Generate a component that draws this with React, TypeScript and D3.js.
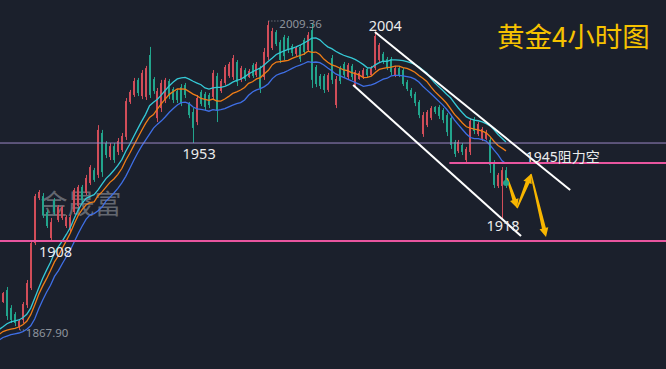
import React from "react";
import * as d3 from "d3";

const W = 666;
const H = 369;

// candles left of the visible window (they only feed the moving averages)
const leadOpen = [1864.5, 1866.2, 1864.8, 1866.9, 1865.3, 1863.9, 1865.8, 1867.1, 1865.0, 1866.4, 1864.6, 1866.8, 1867.6, 1865.2];
const leadHigh = [1867.5, 1868.4, 1867.0, 1869.2, 1867.8, 1866.7, 1868.6, 1869.0, 1867.3, 1868.1, 1867.6, 1869.3, 1868.9, 1868.0];
const leadLow = [1862.8, 1863.9, 1862.1, 1864.0, 1862.6, 1861.8, 1863.5, 1864.2, 1862.9, 1863.4, 1862.5, 1864.1, 1863.8, 1863.6];
const leadClose = [1866.2, 1864.8, 1866.9, 1865.3, 1863.9, 1865.8, 1867.1, 1865.0, 1866.4, 1864.6, 1866.8, 1867.6, 1865.2, 1866.5];

// visible 4h candles
const opens = [
  1880.7, 1886.2, 1878.0, 1875.2, 1869.3, 1872.5, 1879.3, 1887.1, 1907.7, 1928.3,
  1929.2, 1921.9, 1910.0, 1927.4, 1918.3, 1919.2, 1915.5, 1913.7, 1921.9, 1924.7,
  1933.4, 1930.6, 1935.2, 1941.1, 1938.9, 1958.1, 1953.5, 1947.1, 1952.1, 1949.4,
  1950.3, 1956.3, 1972.3, 1975.5, 1982.4, 1975.0, 1974.6, 1993.8, 1982.8, 1964.9,
  1969.5, 1973.2, 1981.9, 1978.2, 1977.3, 1979.1, 1980.1, 1971.4, 1967.7, 1963.1,
  1976.9, 1976.0, 1975.5, 1974.6, 1984.2, 1977.3, 1981.0, 1984.2, 1983.7, 1990.6,
  1982.4, 1986.9, 1983.7, 1989.2, 1984.6, 1987.8, 1983.7, 1992.9, 1997.0, 2004.3,
  1999.7, 2002.0, 2001.6, 1997.9, 1994.3, 1997.5, 2000.7, 1996.1, 2005.2, 1988.3,
  1984.2, 1984.2, 1977.8, 1992.4, 1970.9, 1987.8, 1989.7, 1983.7, 1988.8, 1979.6,
  1982.8, 1983.7, 1987.4, 1984.6, 1987.8, 1991.5, 1994.3, 1991.9, 1991.9, 1984.6,
  1987.8, 1986.9, 1981.4, 1977.8, 1976.0, 1972.3, 1957.6, 1961.7, 1965.0, 1970.0,
  1970.0, 1968.6, 1966.3, 1965.0, 1954.0, 1949.8, 1952.6, 1945.7, 1949.4, 1964.5,
  1957.6, 1955.4, 1955.4, 1954.9, 1944.4, 1933.8, 1933.8, 1941.1,
];
const highs = [
  1885.3, 1887.6, 1879.3, 1876.1, 1872.9, 1880.7, 1890.8, 1909.1, 1930.2, 1932.0,
  1930.6, 1922.8, 1919.2, 1928.3, 1925.1, 1924.7, 1920.5, 1920.5, 1932.9, 1934.3,
  1934.3, 1938.9, 1943.4, 1942.1, 1961.7, 1959.5, 1954.4, 1953.5, 1953.5, 1955.8,
  1958.1, 1974.1, 1977.8, 1983.3, 1983.3, 1986.9, 1988.8, 1997.5, 1983.7, 1978.7,
  1982.4, 1983.3, 1982.8, 1979.1, 1978.2, 1980.5, 1981.0, 1972.3, 1969.5, 1975.5,
  1977.8, 1976.9, 1976.4, 1986.9, 1985.6, 1982.8, 1989.2, 1990.6, 1993.8, 1991.5,
  1988.8, 1987.8, 1987.4, 1990.1, 1990.6, 1988.8, 1997.0, 2009.36, 2006.2, 2005.2,
  2000.7, 2003.0, 2002.5, 1998.8, 1997.9, 1998.4, 2001.6, 2004.3, 2008.0, 1989.2,
  1985.1, 1985.1, 1985.6, 1993.8, 1984.2, 1988.8, 1990.6, 1990.1, 1989.7, 1986.9,
  1986.5, 1987.8, 1987.8, 1988.8, 2004.3, 1999.3, 1995.2, 1992.9, 1992.9, 1988.8,
  1988.8, 1987.8, 1982.4, 1978.7, 1976.9, 1973.2, 1967.7, 1968.6, 1970.4, 1970.4,
  1970.9, 1969.5, 1967.2, 1966.3, 1954.9, 1954.9, 1953.5, 1951.7, 1964.9, 1965.4,
  1963.1, 1960.8, 1959.5, 1956.3, 1945.7, 1939.8, 1942.5, 1942.5,
];
const lows = [
  1880.3, 1872.5, 1871.1, 1869.7, 1867.9, 1871.1, 1878.0, 1886.2, 1906.8, 1927.4,
  1919.2, 1914.6, 1908.6, 1920.5, 1917.3, 1918.3, 1914.6, 1912.8, 1921.0, 1923.7,
  1926.5, 1929.7, 1934.3, 1935.7, 1937.5, 1938.0, 1946.6, 1945.7, 1944.4, 1948.0,
  1949.4, 1954.9, 1971.4, 1974.6, 1975.0, 1973.6, 1973.2, 1974.1, 1976.0, 1963.1,
  1967.7, 1971.8, 1973.6, 1971.8, 1971.8, 1970.4, 1974.1, 1964.9, 1953.5, 1961.7,
  1970.4, 1968.6, 1969.5, 1973.2, 1963.1, 1976.4, 1980.1, 1983.3, 1982.4, 1979.6,
  1981.4, 1981.9, 1983.3, 1983.3, 1983.7, 1976.4, 1982.4, 1991.5, 1996.1, 1997.9,
  1990.1, 1991.5, 1994.7, 1993.3, 1993.3, 1990.6, 1993.8, 1995.2, 1978.7, 1979.1,
  1978.2, 1976.4, 1976.9, 1980.5, 1969.5, 1980.5, 1983.3, 1982.8, 1982.4, 1978.7,
  1982.4, 1982.8, 1983.7, 1984.2, 1986.9, 1990.6, 1989.7, 1986.9, 1984.6, 1983.7,
  1983.7, 1979.6, 1977.3, 1974.1, 1970.4, 1964.9, 1956.3, 1960.8, 1964.0, 1966.8,
  1964.5, 1962.6, 1956.7, 1950.8, 1947.1, 1948.9, 1948.0, 1944.8, 1948.0, 1957.6,
  1956.7, 1954.4, 1954.9, 1939.8, 1932.9, 1932.9, 1918.25, 1932.9,
];
const closes = [
  1884.8, 1874.3, 1872.5, 1871.1, 1872.0, 1879.8, 1889.4, 1907.7, 1929.2, 1931.1,
  1920.5, 1915.5, 1917.3, 1921.9, 1924.2, 1924.2, 1919.6, 1919.6, 1932.0, 1933.4,
  1927.4, 1937.5, 1942.5, 1936.6, 1959.5, 1940.2, 1948.0, 1952.1, 1945.7, 1954.4,
  1956.7, 1972.7, 1976.9, 1981.9, 1976.4, 1985.6, 1987.8, 1975.5, 1977.3, 1977.3,
  1981.0, 1982.4, 1975.0, 1973.2, 1973.2, 1971.8, 1975.5, 1966.3, 1960.4, 1974.1,
  1971.4, 1970.0, 1970.9, 1985.6, 1968.6, 1981.9, 1988.3, 1989.7, 1992.4, 1981.4,
  1987.8, 1982.8, 1986.5, 1984.2, 1989.7, 1978.7, 1995.2, 2007.5, 2004.8, 1998.8,
  1991.5, 1993.3, 1996.1, 1994.7, 1997.0, 1992.0, 1995.2, 2003.0, 1982.4, 1980.5,
  1979.6, 1977.8, 1984.6, 1982.4, 1982.8, 1981.9, 1984.6, 1989.2, 1983.7, 1986.0,
  1985.6, 1986.9, 1984.6, 1987.8, 2002.5, 1998.4, 1990.6, 1987.8, 1986.0, 1987.8,
  1984.6, 1980.5, 1978.2, 1975.0, 1971.8, 1966.3, 1966.3, 1967.7, 1969.5, 1967.7,
  1965.9, 1964.0, 1958.5, 1952.6, 1948.5, 1954.0, 1949.4, 1950.8, 1963.6, 1959.0,
  1962.2, 1959.9, 1958.5, 1943.4, 1934.3, 1938.9, 1941.1, 1935.2,
];

const maPeriod = 14;

// horizontal levels
const levelPrices = [1953.5, 1944.3, 1908.6];
const levelStart = [null, 112.7, null];

// drawn channel: [index, price] end points
const channelUpper: [number, number][] = [[93.9, 2004.3], [143.2, 1932.0]];
const channelLower: [number, number][] = [[88.4, 1980.1], [130.8, 1910.9]];

// yellow zig-zag forecast
const forecast: [number, number][] = [[127.3, 1937.5], [129.8, 1923.7], [133.3, 1939.3], [137.1, 1910.5]];

// price labels on the swing points
const swingLabels = [
  { text: "1953", i: 48, p: 1953.5 },
  { text: "2004", i: 94, p: 2004.3 },
  { text: "1908", i: 12, p: 1908.6 },
  { text: "1918", i: 126, p: 1918.25 },
];

const BG = "#1b202c";
const UP = "#d14d59";
const DOWN = "#22a48c";
const FONT = "'Noto Sans', 'Noto Sans CJK SC', sans-serif";

function sma(values: number[], n: number) {
  return values.map((_, j) => (j < n - 1 ? null : (d3.mean(values.slice(j - n + 1, j + 1)) as number)));
}

function arrowPolygon(a: [number, number], b: [number, number]) {
  const dx = b[0] - a[0];
  const dy = b[1] - a[1];
  const len = Math.hypot(dx, dy);
  const ux = dx / len, uy = dy / len;
  const nx = -uy, ny = ux;
  const headLen = 9;
  const c = [b[0] - ux * headLen, b[1] - uy * headLen];
  const pts = [
    [a[0] + nx * 0.7, a[1] + ny * 0.7],
    [c[0] + nx * 2, c[1] + ny * 2],
    [c[0] + nx * 4.5, c[1] + ny * 4.5],
    [b[0], b[1]],
    [c[0] - nx * 4.5, c[1] - ny * 4.5],
    [c[0] - nx * 2, c[1] - ny * 2],
    [a[0] - nx * 0.7, a[1] - ny * 0.7],
  ];
  return pts.map((p) => p.join(",")).join(" ");
}

export default function App() {
  const n = highs.length;
  const lead = leadHigh.length;
  const x = d3.scaleLinear().domain([0, n - 1]).range([3, 506]);
  const y = d3.scaleLinear().domain([1867.9, 2009.36]).range([330, 21]);

  const allHigh = [...leadHigh, ...highs];
  const allLow = [...leadLow, ...lows];
  const allClose = [...leadClose, ...closes];

  const toPts = (vals: (number | null)[]) =>
    vals
      .map((v, j) => (v == null ? null : ([j - lead, v] as [number, number])))
      .filter((d): d is [number, number] => d != null);

  const line = d3
    .line<[number, number]>()
    .x((d) => x(d[0]))
    .y((d) => y(d[1]));

  const maHigh = toPts(sma(allHigh, maPeriod));
  const maClose = toPts(sma(allClose, maPeriod));
  const maLow = toPts(sma(allLow, maPeriod));

  const fpx = forecast.map((d) => [x(d[0]), y(d[1])] as [number, number]);

  const levelColors = ["#9a88c6", "#e8559f", "#e8559f"];
  const levelWidths = [1, 2, 2];

  return (
    <div style={{ position: "fixed", left: 0, top: 0, width: W, height: H, background: BG }}>
      <svg width={W} height={H} style={{ display: "block" }}>
        <rect x={0} y={0} width={W} height={H} fill={BG} />

        {/* watermark */}
        <text x={81} y={202} fill="#70747c" fontSize={27} fontFamily="'Noto Sans CJK SC', sans-serif" textAnchor="middle" dominantBaseline="central" opacity={0.85}>
          金晟富
        </text>

        {/* candles */}
        <g>
          {highs.map((h, i) => {
            const up = closes[i] >= opens[i];
            const cx = Math.round(x(i));
            const top = y(Math.max(opens[i], closes[i]));
            const bot = y(Math.min(opens[i], closes[i]));
            const col = up ? UP : DOWN;
            return (
              <g key={i} fill={col}>
                <rect x={cx} y={y(h)} width={1} height={y(lows[i]) - y(h)} />
                <rect x={cx - 1} y={top} width={2} height={Math.max(1, bot - top)} />
              </g>
            );
          })}
        </g>

        {/* moving averages of high / close / low */}
        <path d={line(maLow) || ""} fill="none" stroke="#3f6fe6" strokeWidth={1.3} />
        <path d={line(maClose) || ""} fill="none" stroke="#f07d16" strokeWidth={1.3} />
        <path d={line(maHigh) || ""} fill="none" stroke="#35c9d6" strokeWidth={1.3} />

        {/* horizontal levels */}
        {levelPrices.map((p, k) => (
          <line
            key={k}
            x1={levelStart[k] == null ? 0 : x(levelStart[k] as number)}
            x2={W}
            y1={y(p)}
            y2={y(p)}
            stroke={levelColors[k]}
            strokeWidth={levelWidths[k]}
          />
        ))}

        {/* channel */}
        <path d={line(channelUpper) || ""} stroke="#ffffff" strokeWidth={2} fill="none" />
        <path d={line(channelLower) || ""} stroke="#ffffff" strokeWidth={2} fill="none" />

        {/* forecast arrows */}
        {fpx.slice(1).map((b, k) => (
          <polygon key={k} points={arrowPolygon(fpx[k], b)} fill="#f7b500" />
        ))}

        {/* last price marker */}
        <circle cx={x(n - 1)} cy={y(closes[n - 1])} r={3} fill={DOWN} />

        {/* extremes */}
        <line x1={x(67)} x2={x(67) + 10} y1={y(highs[67])} y2={y(highs[67])} stroke="#8d939c" strokeDasharray="1,2" />
        <text x={x(67) + 11} y={y(highs[67]) + 2} fill="#8d939c" fontSize={11.5} fontFamily={FONT} dominantBaseline="central">
          2009.36
        </text>
        <line x1={x(4) + 1} x2={x(4) + 6} y1={y(lows[4])} y2={y(lows[4])} stroke="#8d939c" strokeDasharray="1,2" />
        <text x={x(4) + 7} y={y(lows[4]) + 2} fill="#8d939c" fontSize={11.5} fontFamily={FONT} dominantBaseline="central">
          1867.90
        </text>

        {/* swing labels */}
        {swingLabels.map((s) => {
          const dx = s.text === "2004" ? 10 : s.text === "1953" ? 6 : s.text === "1908" ? 5 : 1;
          const dy = s.text === "2004" ? -7 : s.text === "1918" ? 5 : 10;
          return (
            <text
              key={s.text}
              x={x(s.i) + dx}
              y={y(s.p) + dy}
              fill="#ececec"
              fontSize={14.5}
              fontFamily={FONT}
              textAnchor="middle"
              dominantBaseline="central"
            >
              {s.text}
            </text>
          );
        })}
        <text x={x(132)} y={y(levelPrices[1]) - 7} fill="#ececec" fontSize={14} fontFamily={FONT} dominantBaseline="central">
          1945阻力空
        </text>

        {/* title */}
        <text x={497} y={35} fill="#f6c200" fontSize={27.5} fontFamily="'Noto Sans CJK SC', sans-serif" dominantBaseline="central">
          黄金4小时图
        </text>
      </svg>
    </div>
  );
}
